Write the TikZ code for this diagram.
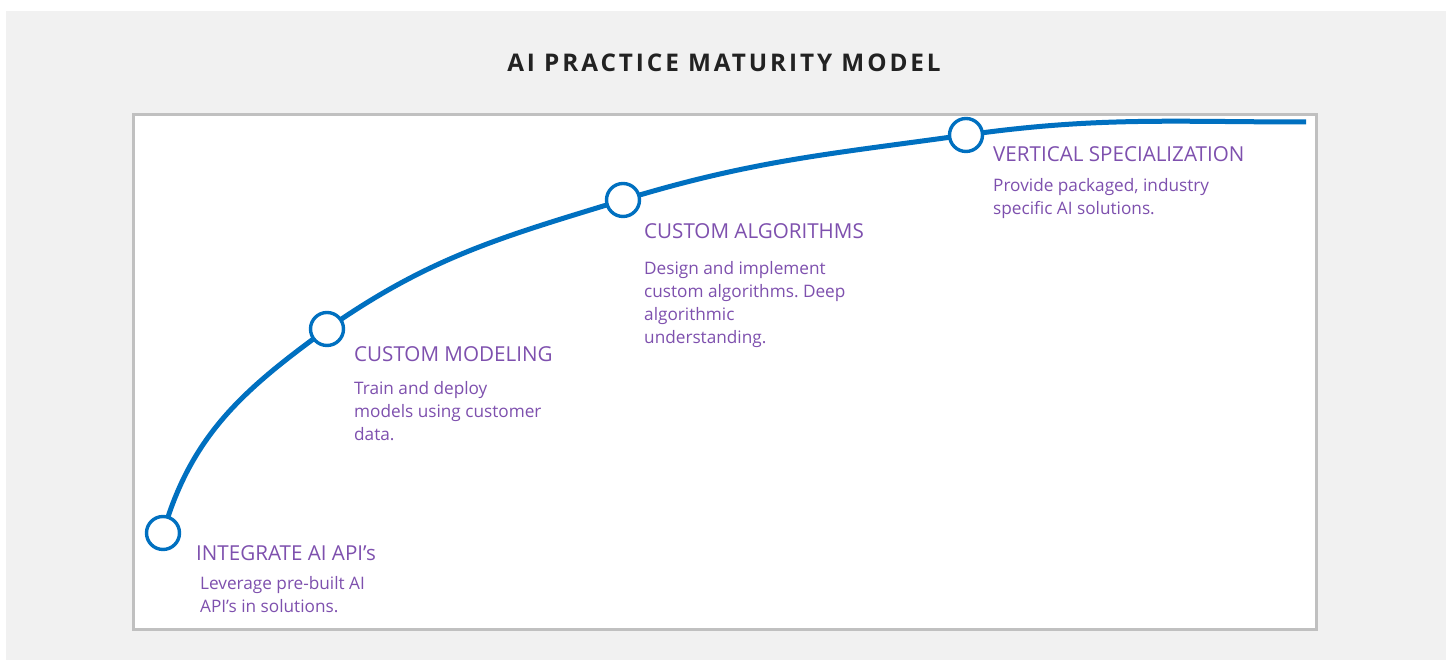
\documentclass[tikz,border=0pt]{standalone}
\usepackage{fontspec}
\setmainfont{Open Sans}
\newfontfamily\titlefont[LetterSpace=12]{Open Sans}
\definecolor{panelgray}{HTML}{F1F1F1}
\definecolor{framegray}{HTML}{C0C0C0}
\definecolor{curveblue}{HTML}{0070C0}
\definecolor{labpurple}{HTML}{7E50AE}
\definecolor{titledark}{HTML}{222222}
\tikzset{
  stagedot/.style={circle, draw=curveblue, fill=white, line width=3.4pt, minimum size=33pt, inner sep=0pt},
  stagehead/.style={anchor=base west, inner sep=0pt, text=labpurple, font=\fontsize{20.6}{23}\selectfont},
  stagedesc/.style={anchor=base west, inner sep=0pt, text=labpurple, font=\fontsize{17.2}{23}\selectfont},
}
\begin{document}
\frenchspacing
\begin{tikzpicture}[x=1pt,y=1pt]
\useasboundingbox (0,0) rectangle (1449,660);
\fill[white] (0,0) rectangle (1449,660);
\fill[panelgray] (6,0) rectangle (1446,649);
\draw[framegray, line width=3pt, fill=white] (133.5,30.5) rectangle (1316.5,545.5);
\node[anchor=base, inner sep=0pt, text=titledark, font=\titlefont\bfseries\fontsize{24.3}{28}\selectfont] (title) at (724,588) {AI PRACTICE MATURITY MODEL};
% stage positions
\coordinate (p1) at (163,127);
\coordinate (p2) at (327,331);
\coordinate (p3) at (623,460);
\coordinate (p4) at (966,525);
\coordinate (pend) at (1306,538);
\draw[curveblue, line width=5pt] (p1) to[out=74,in=216] (p2) to[out=35,in=197] (p3) to[out=17,in=188] (p4) to[out=8,in=180] (pend);
\node[stagedot] (s1) at (p1) {};
\node[stagedot] (s2) at (p2) {};
\node[stagedot] (s3) at (p3) {};
\node[stagedot] (s4) at (p4) {};
% labels
\node[stagehead] (h1) at (196,99) {INTEGRATE AI API’s};
\node[stagedesc] (d1) at (200,70) {\begin{tabular}[t]{@{}l@{}}Leverage pre-built AI\\API’s in solutions.\end{tabular}};
\node[stagehead] (h2) at (354,298) {CUSTOM MODELING};
\node[stagedesc] (d2) at (354,265) {\begin{tabular}[t]{@{}l@{}}Train and deploy\\models using customer\\data.\end{tabular}};
\node[stagehead] (h3) at (644,421) {CUSTOM ALGORITHMS};
\node[stagedesc] (d3) at (644,385) {\begin{tabular}[t]{@{}l@{}}Design and implement\\custom algorithms. Deep\\algorithmic\\understanding.\end{tabular}};
\node[stagehead] (h4) at (993,498) {VERTICAL SPECIALIZATION};
\node[stagedesc] (d4) at (993,468) {\begin{tabular}[t]{@{}l@{}}Provide packaged, industry\\specific AI solutions.\end{tabular}};
\end{tikzpicture}
\end{document}
